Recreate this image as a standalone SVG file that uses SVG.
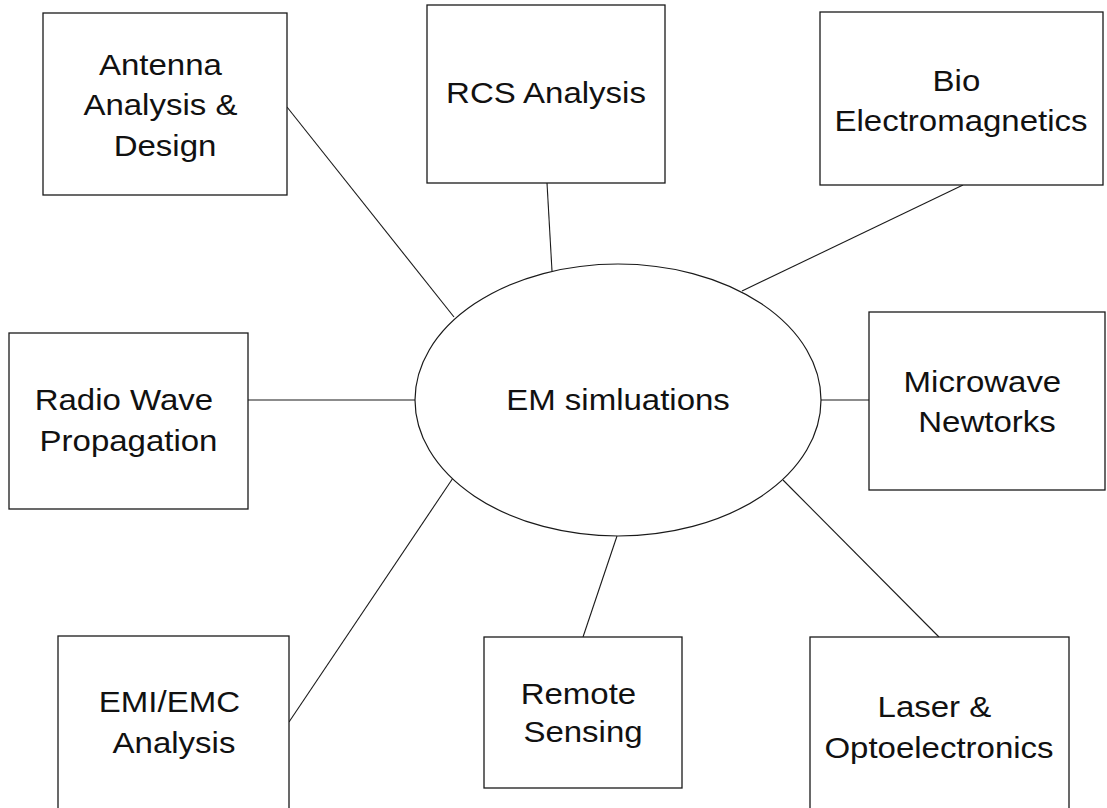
<svg xmlns="http://www.w3.org/2000/svg" width="1107" height="808" viewBox="0 0 1107 808">
  <style>
    .box { fill: #ffffff; stroke: #1a1a1a; stroke-width: 1.3; }
    .hub { fill: #ffffff; stroke: #1a1a1a; stroke-width: 1.2; }
    .link { stroke: #1a1a1a; stroke-width: 1.1; fill: none; }
    .lbl { font-family: "Liberation Sans", Arial, sans-serif; font-size: 30px; fill: #111111; text-anchor: middle; }
  </style>
  <rect width="1107" height="808" fill="#ffffff"/>

  <!-- spokes from the central ellipse to each application box -->
  <g id="connectors">
    <line class="link" x1="287" y1="107" x2="454" y2="317"/>
    <line class="link" x1="547" y1="183" x2="552" y2="271"/>
    <line class="link" x1="963" y1="185" x2="742" y2="291"/>
    <line class="link" x1="248" y1="400" x2="415" y2="400"/>
    <line class="link" x1="821" y1="400" x2="869" y2="400"/>
    <line class="link" x1="289" y1="722" x2="453" y2="478"/>
    <line class="link" x1="617" y1="536" x2="583" y2="637"/>
    <line class="link" x1="783" y1="480" x2="939" y2="637"/>
  </g>

  <g id="em-simulations">
    <ellipse class="hub" cx="618" cy="400" rx="203" ry="136"/>
    <text class="lbl" transform="translate(618,0) scale(1.1,1)" x="0" y="410">EM simluations</text>
  </g>

  <g id="antenna">
    <rect class="box" x="43" y="13" width="244" height="182"/>
    <text class="lbl" transform="translate(165,0) scale(1.1,1)">
      <tspan x="0" y="75">Antenna</tspan>
      <tspan x="0" y="115.5">Analysis &amp;</tspan>
      <tspan x="0" y="156">Design</tspan>
    </text>
  </g>

  <g id="rcs">
    <rect class="box" x="427" y="5" width="238" height="178"/>
    <text class="lbl" transform="translate(546,0) scale(1.1,1)" x="0" y="103">RCS Analysis</text>
  </g>

  <g id="bio">
    <rect class="box" x="820" y="12" width="283" height="173"/>
    <text class="lbl" transform="translate(961,0) scale(1.1,1)">
      <tspan x="0" y="91">Bio</tspan>
      <tspan x="0" y="131">Electromagnetics</tspan>
    </text>
  </g>

  <g id="radio">
    <rect class="box" x="9" y="333" width="239" height="176"/>
    <text class="lbl" transform="translate(128.5,0) scale(1.1,1)">
      <tspan x="0" y="410">Radio Wave</tspan>
      <tspan x="0" y="451">Propagation</tspan>
    </text>
  </g>

  <g id="microwave">
    <rect class="box" x="869" y="312" width="236" height="178"/>
    <text class="lbl" transform="translate(987,0) scale(1.1,1)">
      <tspan x="0" y="392">Microwave</tspan>
      <tspan x="0" y="432">Newtorks</tspan>
    </text>
  </g>

  <g id="emi-emc">
    <rect class="box" x="58" y="636" width="231" height="180"/>
    <text class="lbl" transform="translate(174,0) scale(1.1,1)">
      <tspan x="0" y="712">EMI/EMC</tspan>
      <tspan x="0" y="753">Analysis</tspan>
    </text>
  </g>

  <g id="remote-sensing">
    <rect class="box" x="484" y="637" width="198" height="151"/>
    <text class="lbl" transform="translate(583,0) scale(1.1,1)">
      <tspan x="0" y="704">Remote</tspan>
      <tspan x="0" y="742">Sensing</tspan>
    </text>
  </g>

  <g id="laser">
    <rect class="box" x="810" y="637" width="259" height="190"/>
    <text class="lbl" transform="translate(939,0) scale(1.1,1)">
      <tspan x="0" y="717">Laser &amp;</tspan>
      <tspan x="0" y="758">Optoelectronics</tspan>
    </text>
  </g>
</svg>
